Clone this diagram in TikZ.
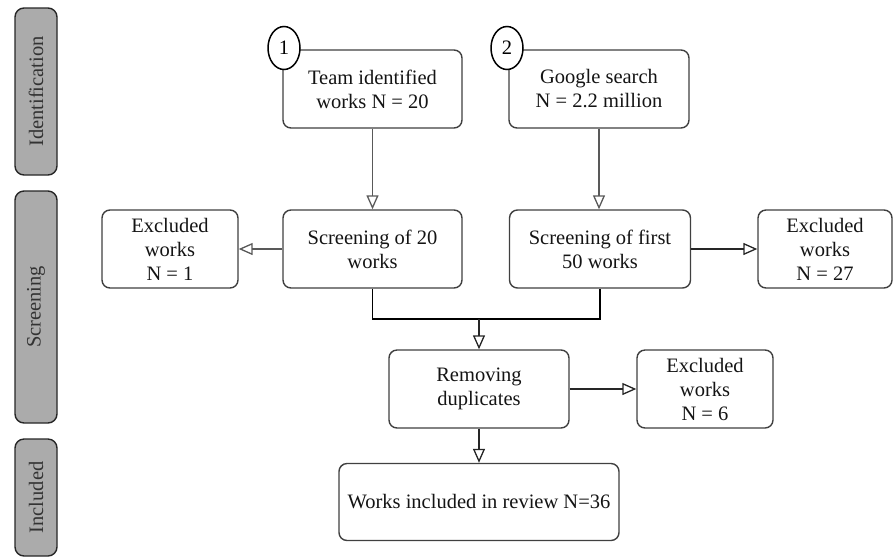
\documentclass[tikz,border=0pt]{standalone}
\usepackage{fontspec}
\setmainfont{Liberation Serif}
\usetikzlibrary{arrows.meta,shapes.geometric}
\definecolor{bargray}{HTML}{ABABAB}
\definecolor{edge}{HTML}{404040}
\begin{document}
\begin{tikzpicture}[x=1pt,y=-1pt,
  box/.style={draw=edge, line width=1.4pt, rounded corners=8pt, fill=white, align=center,
    font=\fontsize{20.5}{24}\selectfont, inner sep=0pt, text=black!92},
  phase/.style={draw=black!85, line width=1.4pt, rounded corners=9pt, fill=bargray, rotate=90,
    minimum height=42pt, inner sep=0pt, font=\fontsize{20.5}{24}\selectfont, text=black!80},
  num/.style={ellipse, draw=black, line width=1.5pt, fill=white, minimum width=32pt,
    minimum height=43pt, inner sep=0pt, font=\fontsize{20.5}{24}\selectfont},
  flow/.style={line width=1.3pt, draw=black!65, -{Triangle[open, length=14pt, width=12pt]}},
  merge/.style={line width=1.6pt, draw=black}
]
\useasboundingbox (0,0) rectangle (893,558);
% phase bars
\node[phase, minimum width=167pt] (pid) at (36,91.5) {Identification};
\node[phase, minimum width=232pt] (psc) at (36,307) {Screening};
\node[phase, minimum width=117pt] (pin) at (36,497.5) {Included};
% boxes
\node[box, minimum width=179pt, minimum height=78pt] (team) at (372.5,89) {Team identified\\works N = 20};
\node[box, minimum width=180pt, minimum height=78pt] (google) at (599,89) {Google search\\N = 2.2 million};
\node[num] (n1) at (284,48) {1};
\node[num] (n2) at (507,48) {2};
\node[box, minimum width=179pt, minimum height=78pt] (scr20) at (372.5,249) {Screening of 20\\works};
\node[box, minimum width=181pt, minimum height=78pt] (scr50) at (600,249) {Screening of first\\50 works};
\node[box, minimum width=136pt, minimum height=78pt] (exc1) at (170,249) {Excluded\\works\\N = 1};
\node[box, minimum width=134pt, minimum height=78pt] (exc27) at (825,249) {Excluded\\works\\N = 27};
\node[box, minimum width=180pt, minimum height=78pt] (rem) at (479,389) {Removing\\duplicates};
\node[box, minimum width=136pt, minimum height=78pt] (exc6) at (705,389) {Excluded\\works\\N = 6};
\node[box, minimum width=280pt, minimum height=77pt] (works) at (479,502) {Works included in review N=36};
% connectors
\draw[flow] (team.south) -- (scr20.north);
\draw[flow] (google.south) -- (google.south |- scr50.north);
\draw[flow] (scr20.west) -- (exc1.east);
\draw[flow, draw=black!85] (scr50.east) -- (exc27.west);
\coordinate (m) at (479,319);
\draw[merge] (scr20.south) |- (m) -| (scr50.south);
\draw[flow, draw=black!85] (m) -- (m |- rem.north);
\draw[flow, draw=black!85] (rem.east) -- (exc6.west);
\draw[flow, draw=black!85] (rem.south) -- (works.north);
\end{tikzpicture}
\end{document}
